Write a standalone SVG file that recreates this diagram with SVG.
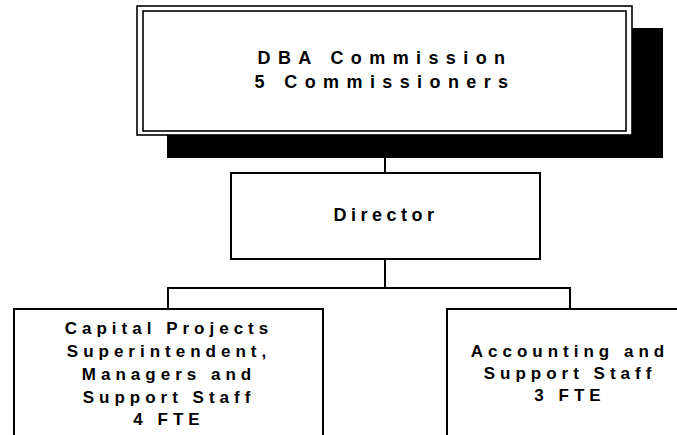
<svg xmlns="http://www.w3.org/2000/svg" width="677" height="435" viewBox="0 0 677 435">
<style>
.box{fill:#fff;stroke:#000;stroke-width:2}
.thin{fill:none;stroke:#000;stroke-width:1.6}
.ln{fill:none;stroke:#000;stroke-width:2}
text{font-family:"Liberation Sans",Arial,sans-serif;font-weight:bold;fill:#000;text-anchor:middle}
.big{font-size:18px;letter-spacing:7.4px}
.dir{font-size:18px;letter-spacing:4.5px}
.sm{font-size:17px;letter-spacing:5px}
</style>
<rect width="677" height="435" fill="#fff"/>
<g id="connectors">
<line class="ln" x1="385" y1="135" x2="385" y2="173"/>
<line class="ln" x1="385" y1="259" x2="385" y2="288"/>
<line class="ln" x1="168" y1="288" x2="570" y2="288"/>
<line class="ln" x1="168" y1="287" x2="168" y2="310"/>
<line class="ln" x1="570" y1="287" x2="570" y2="310"/>
</g>
<g id="commission">
<rect x="167" y="28" width="496" height="130" fill="#000"/>
<rect x="137" y="6" width="495" height="129" fill="#fff" stroke="#000" stroke-width="1.6"/>
<rect class="thin" x="143" y="11" width="483" height="120"/>
<text class="big" x="385" y="64">DBA Commission</text>
<text class="big" x="385" y="88">5 Commissioners</text>
</g>
<g id="director">
<rect class="box" x="231" y="173" width="309" height="86"/>
<text class="dir" x="386" y="221">Director</text>
</g>
<g id="capital">
<rect class="box" x="14" y="309" width="309" height="140"/>
<text class="sm" x="169" y="334">Capital Projects</text>
<text class="sm" x="169" y="357">Superintendent,</text>
<text class="sm" x="169" y="380">Managers and</text>
<text class="sm" x="169" y="403">Support Staff</text>
<text class="sm" x="169" y="425">4 FTE</text>
</g>
<g id="accounting">
<rect class="box" x="447" y="309" width="246" height="140"/>
<text class="sm" x="570" y="357">Accounting and</text>
<text class="sm" x="570" y="379">Support Staff</text>
<text class="sm" x="570" y="401">3 FTE</text>
</g>
</svg>
